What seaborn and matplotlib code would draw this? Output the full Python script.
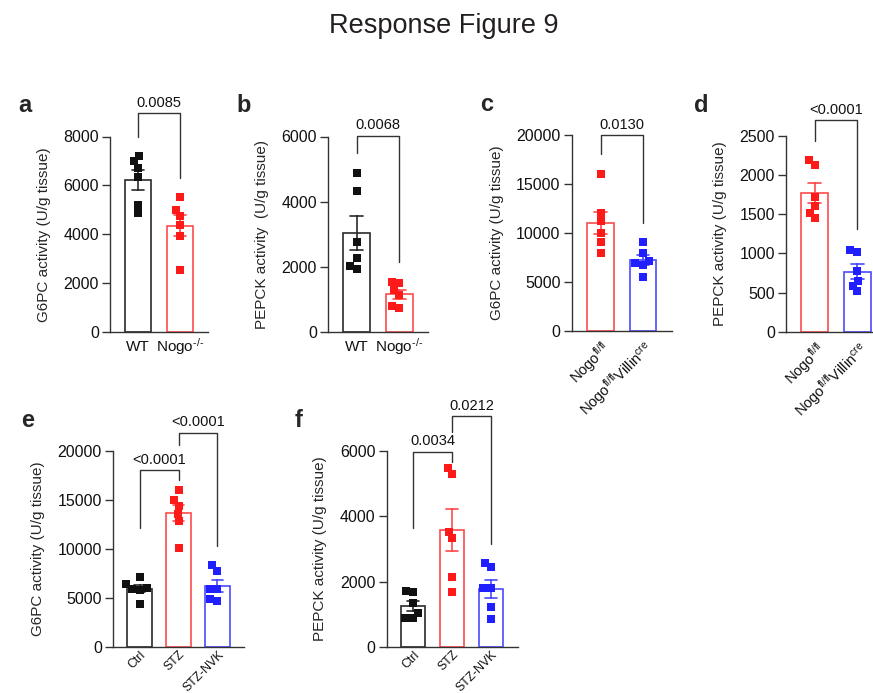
import matplotlib.pyplot as plt
import pandas as pd
import seaborn as sns
from matplotlib.transforms import ScaledTranslation

# Data (U/g tissue), six animals per group
a_groups = ["WT", r"Nogo$^{\text{-/-}}$"]
a_wt = [7210, 6980, 6730, 6340, 5210, 4850]
a_ko = [5520, 5000, 4730, 4360, 3910, 2520]

b_groups = ["WT", r"Nogo$^{\text{-/-}}$"]
b_wt = [4880, 4330, 2750, 2260, 2030, 1930]
b_ko = [1530, 1500, 1290, 1130, 800, 735]

cd_groups = [r"Nogo$^{\mathrm{fl/fl}}$", r"Nogo$^{\mathrm{fl/fl}}$Villin$^{\mathrm{cre}}$"]
c_flox = [15980, 12000, 11240, 9950, 9030, 7910]
c_cre = [9100, 7900, 7120, 6890, 6710, 5520]
d_flox = [2190, 2130, 1720, 1610, 1520, 1450]
d_cre = [1050, 1020, 780, 650, 590, 515]

ef_groups = ["Ctrl", "STZ", "STZ-NVK"]
e_ctrl = [7150, 6400, 6000, 5900, 5800, 4400]
e_stz = [16010, 15060, 14450, 13630, 12880, 10120]
e_nvk = [8320, 7770, 5870, 5860, 4910, 4700]
f_ctrl = [1720, 1690, 1350, 1050, 870, 870]
f_stz = [5480, 5300, 3530, 3330, 2150, 1690]
f_nvk = [2580, 2440, 1790, 1790, 1230, 840]

# p-value brackets: (group i, group j, label, bracket top, left leg end, right leg end)
brackets = {
    "a": [(0, 1, "0.0085", 8950, 8000, 6300)],
    "b": [(0, 1, "0.0068", 6030, 5490, 2160)],
    "c": [(0, 1, "0.0130", 20000, 18060, 11040)],
    "d": [(0, 1, "<0.0001", 2700, 2440, 1310)],
    "e": [(0, 1, "<0.0001", 18060, 12100, 17040), (1, 2, "<0.0001", 21900, 20610, 10320)],
    "f": [(0, 1, "0.0034", 5990, 3660, 5680), (1, 2, "0.0212", 7070, 6600, 3150)],
}

BLACK, RED, BLUE = "#111111", "#ff1a1a", "#1f1fff"
EDGE = {BLACK: "#2a2a2a", RED: "#ff4a4a", BLUE: "#4a4aff"}
AXIS = "#333333"

sns.set_theme(style="ticks")
plt.rcParams["font.family"] = ["Liberation Sans", "DejaVu Sans"]
plt.rcParams.update({
    "mathtext.fontset": "custom",
    "mathtext.rm": "Liberation Sans",
    "mathtext.it": "Liberation Sans:italic",
    "mathtext.bf": "Liberation Sans:bold",
    "axes.edgecolor": AXIS,
    "axes.linewidth": 1.0,
    "ytick.color": AXIS,
    "ytick.major.width": 1.0,
    "ytick.major.size": 6,
    "xtick.labelcolor": "#111111",
    "ytick.labelcolor": "#111111",
})

W, H = 873, 693
fig = plt.figure(figsize=(W / 100, H / 100), dpi=100)


def px_axes(left, top, width, height):
    return fig.add_axes([left / W, 1 - (top + height) / H, width / W, height / H])


panels = [
    # letter, axes box (px), groups, series, colors, ylabel, yticks, label style
    ("a", (110, 136.5, 98, 195.5), a_groups, [a_wt, a_ko], [BLACK, RED],
     "G6PC activity (U/g tissue)", range(0, 8001, 2000), "flat"),
    ("b", (328, 136.5, 100, 195.5), b_groups, [b_wt, b_ko], [BLACK, RED],
     "PEPCK activity  (U/g tissue)", range(0, 6001, 2000), "flat"),
    ("c", (571.7, 135, 100, 195.7), cd_groups, [c_flox, c_cre], [RED, BLUE],
     "G6PC activity (U/g tissue)", range(0, 20001, 5000), "rot"),
    ("d", (786, 136, 100, 195.7), cd_groups, [d_flox, d_cre], [RED, BLUE],
     "PEPCK activity (U/g tissue)", range(0, 2501, 500), "rot"),
    ("e", (113, 451.3, 131, 195.4), ef_groups, [e_ctrl, e_stz, e_nvk], [BLACK, RED, BLUE],
     "G6PC activity (U/g tissue)", range(0, 20001, 5000), "rot_small"),
    ("f", (386.7, 451.3, 131, 195.4), ef_groups, [f_ctrl, f_stz, f_nvk], [BLACK, RED, BLUE],
     "PEPCK activity (U/g tissue)", range(0, 6001, 2000), "rot_small"),
]

for letter, box, groups, series, colors, ylabel, yticks, style in panels:
    ax = px_axes(*box)
    df = pd.DataFrame({
        "group": [g for g, vals in zip(groups, series) for _ in vals],
        "value": [v for vals in series for v in vals],
    })
    for g, c in zip(groups, colors):
        sub = df[df["group"] == g]
        sns.barplot(data=sub, x="group", y="value", order=groups, color=EDGE[c],
                    saturation=1, fill=False, width=0.63, linewidth=1.2,
                    errorbar="se", capsize=0.3,
                    err_kws={"color": EDGE[c], "linewidth": 1.2}, ax=ax, zorder=2)
        sns.swarmplot(data=sub, x="group", y="value", order=groups, color=c,
                      marker="s", size=5.3, linewidth=0, ax=ax, zorder=3)

    n = len(groups)
    ax.set_xlim(-0.68, n - 0.32)
    ax.set_ylim(0, yticks[-1])
    ax.set_yticks(list(yticks))
    ax.tick_params(axis="y", labelsize=11.5, pad=2)
    ax.tick_params(axis="x", length=0)
    ax.set_xlabel(None)
    ax.set_ylabel(ylabel, fontsize=11, labelpad=9)
    sns.despine(ax=ax)

    ax.set_xticks(range(n))
    if style == "flat":
        labels = ax.set_xticklabels(groups, fontsize=11)
        for lab in labels:
            lab.set_va("baseline")
        ax.tick_params(axis="x", pad=14)
    else:
        size = 10.5 if style == "rot" else 8.8
        labels = ax.set_xticklabels(groups, fontsize=size, rotation=45,
                                    ha="right", va="top", rotation_mode="anchor")
        shift = ScaledTranslation(8 / 72, 0, fig.dpi_scale_trans)
        for lab in labels:
            lab.set_transform(lab.get_transform() + shift)
        ax.tick_params(axis="x", pad=5 if style == "rot" else 1.5)

    for i, j, text, top, yl, yr in brackets[letter]:
        ax.plot([i, i, j, j], [yl, top, top, yr], color=AXIS, lw=1.0,
                clip_on=False, zorder=4)
        ax.annotate(text, xy=((i + j) / 2, top), xytext=(0, 2.5),
                    textcoords="offset points", ha="center", va="bottom",
                    fontsize=10.5, color="#111111", annotation_clip=False)

    fig.text((box[0] - 92) / W, 1 - (box[1] - 24) / H, letter,
             fontsize=17, fontweight="bold", ha="left", va="baseline")

fig.text(0.508, 0.962, "Response Figure 9", ha="center", va="center",
         fontsize=19.5, color="#231f20")

fig.savefig("out.png", dpi=100)
